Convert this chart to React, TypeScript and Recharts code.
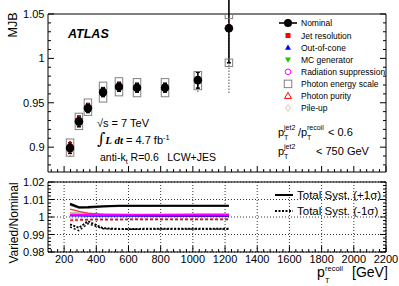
import React from "react";
import {CartesianGrid, ComposedChart, ErrorBar, Line, Scatter, XAxis, YAxis} from "recharts";

const FONT = "'Liberation Sans', Arial, Helvetica, sans-serif";

// recoil pT bin centres [GeV]
const recoilPt = [237, 292, 348, 442, 541, 653, 827, 1031, 1224];

// top panel: MJB per variation
const nominal = [0.899, 0.929, 0.944, 0.962, 0.968, 0.967, 0.967, 0.9755, 1.034];
const nominalErr = [0.006, 0.006, 0.005, 0.005, 0.005, 0.005, 0.005, 0.009, 0.039];
const jetResolution = [0.897, 0.927, 0.943, 0.961, 0.967, 0.966, 0.966, 0.975, 1.033];
const outOfCone = [0.8995, 0.9295, 0.9445, 0.9625, 0.9685, 0.9675, 0.9675, 0.976, 1.0345];
const mcGenerator = [0.899, 0.929, 0.944, 0.962, 0.968, 0.967, 0.967, 0.9755, 1.034];
const radiation = [0.900, 0.930, 0.945, 0.963, 0.969, 0.968, 0.968, 0.976, 1.035];
const pesUp = [0.905, 0.934, 0.950, 0.969, 0.974, 0.973, 0.973, 0.981, 1.049];
const pesDown = [0.894, 0.924, 0.940, 0.955, 0.962, 0.961, 0.961, 0.969, 0.995];
const pesDownErr = [0.005, 0, 0, 0, 0, 0, 0, 0.007, 0.034];
const photonPurity = [0.903, 0.932, 0.946, 0.963, 0.969, 0.968, 0.968, 0.977, 1.036];
const pileUp = [0.899, 0.929, 0.944, 0.962, 0.968, 0.967, 0.967, 0.9755, 1.034];

// bottom panel: varied / nominal
const totUp = [1.0076, 1.0056, 1.0057, 1.0062, 1.0064, 1.0064, 1.0064, 1.0064, 1.0064];
const totUpAlt = [1.0068, 1.0050, 1.0051, 1.0057, 1.0060, 1.0061, 1.0062, 1.0062, 1.0062];
const totDown = [0.9958, 0.9938, 0.9976, 0.9936, 0.9932, 0.9932, 0.9933, 0.9933, 0.9933];
const totDownAlt = [0.9943, 0.9922, 0.9962, 0.9933, 0.9930, 0.9930, 0.9931, 0.9931, 0.9931];
const jetResRatio = [1.0045, 1.0032, 1.0022, 1.0014, 1.0010, 1.0008, 1.0006, 1.0005, 1.0005];
const pesUpRatio = [1.0026, 1.0023, 1.0021, 1.0019, 1.0017, 1.0016, 1.0015, 1.0014, 1.0014];
const mcRatio = [1.0018, 1.0016, 1.0014, 1.0012, 1.0011, 1.0010, 1.0009, 1.0008, 1.0008];
const radRatio = [1.0012, 1.0012, 1.0012, 1.0012, 1.0012, 1.0013, 1.0014, 1.0016, 1.0016];
const oocRatio = [1.0007, 1.0007, 1.0006, 1.0006, 1.0006, 1.0006, 1.0005, 1.0005, 1.0005];
const purityRatio = [0.9982, 0.9984, 0.9985, 0.9986, 0.9986, 0.9987, 0.9987, 0.9987, 0.9987];
const pileRatio = [0.9993, 0.9993, 0.9994, 0.9994, 0.9994, 0.9994, 0.9994, 0.9994, 0.9994];
const pesDownRatio = [0.9978, 0.9980, 0.9981, 0.9982, 0.9982, 0.9982, 0.9982, 0.9982, 0.9982];

const xDomain = [100, 2200];
const xMajor = [200, 400, 600, 800, 1000, 1200, 1400, 1600, 1800, 2000, 2200];
const mjbMajor = [0.9, 0.95, 1, 1.05];
const ratioMajor = [0.98, 0.99, 1, 1.01, 1.02];

const steps = (from: number, to: number, step: number) =>
  Array.from({length: Math.round((to - from) / step) + 1}, (_, i) => +(from + i * step).toFixed(4));
const xTicks = steps(120, 2200, 40);
const mjbTicks = steps(0.88, 1.05, 0.01);
const ratioTicks = steps(0.98, 1.02, 0.002);

const pts = (ys: number[], errs?: number[]) =>
  recoilPt.map((x, i) => ({x, y: ys[i], e: errs ? errs[i] : 0}));

// marker shapes
const circle = (r: number, fill: string, stroke = "none") => (p: any) =>
  <circle cx={p.cx} cy={p.cy} r={r} fill={fill} stroke={stroke} strokeWidth={1}/>;
const square = (s: number, fill: string, stroke = "none") => (p: any) =>
  <rect x={p.cx - s / 2} y={p.cy - s / 2} width={s} height={s} fill={fill} stroke={stroke} strokeWidth={1}/>;
const triangle = (s: number, fill: string, stroke = "none", down = false) => (p: any) => {
  const h = s * 0.87, d = down ? -1 : 1;
  const pp = `${p.cx},${p.cy - d * h * 0.6} ${p.cx - s / 2},${p.cy + d * h * 0.4} ${p.cx + s / 2},${p.cy + d * h * 0.4}`;
  return <polygon points={pp} fill={fill} stroke={stroke} strokeWidth={1}/>;
};
const diamond = (s: number, stroke: string) => (p: any) => {
  const pp = `${p.cx},${p.cy - s / 2} ${p.cx + s / 3},${p.cy} ${p.cx},${p.cy + s / 2} ${p.cx - s / 3},${p.cy}`;
  return <polygon points={pp} fill="none" stroke={stroke} strokeWidth={1}/>;
};

const legendItems = [
  {name: "Jet resolution", shape: square(5, "#ff0000")},
  {name: "Out-of-cone", shape: triangle(6, "#0000ff")},
  {name: "MC generator", shape: triangle(6, "#22bb22", "none", true)},
  {name: "Radiation suppression", shape: circle(2.8, "none", "#ff00ff")},
  {name: "Photon energy scale", shape: square(7.5, "none", "#808080")},
  {name: "Photon purity", shape: triangle(7, "none", "#ff0000")},
  {name: "Pile-up", shape: diamond(7, "#d2cbb4")},
];

const ratioSeries = [
  {key: "pesDown", values: pesDownRatio, color: "#b0b0b0", dash: "3 2", width: 1.2},
  {key: "pile", values: pileRatio, color: "#ff99cc", dash: "3 2", width: 1.2},
  {key: "purity", values: purityRatio, color: "#ff0000", dash: "3 2", width: 1.4},
  {key: "pesUp", values: pesUpRatio, color: "#b8b8a8", dash: undefined, width: 1.4},
  {key: "mc", values: mcRatio, color: "#66cc66", dash: undefined, width: 1.4},
  {key: "jetRes", values: jetResRatio, color: "#ff3030", dash: undefined, width: 1.4},
  {key: "ooc", values: oocRatio, color: "#0000ff", dash: undefined, width: 1.4},
  {key: "rad", values: radRatio, color: "#ff00ff", dash: undefined, width: 1.6},
  {key: "totUpAlt", values: totUpAlt, color: "#555555", dash: undefined, width: 1.2},
  {key: "totDownAlt", values: totDownAlt, color: "#000000", dash: "2 2", width: 1.4},
  {key: "totUp", values: totUp, color: "#000000", dash: undefined, width: 2},
  {key: "totDown", values: totDown, color: "#000000", dash: "2 1.5", width: 2},
];

const ratioRows = recoilPt.map((x, i) => {
  const row: Record<string, number> = {x};
  ratioSeries.forEach(s => { row[s.key] = s.values[i]; });
  return row;
});

const black = {stroke: "#000", strokeWidth: 1};
const isMajor = (v: number, majors: number[]) => majors.some(m => Math.abs(m - v) < 1e-6);

// ROOT-like inward ticks: long for major, short for minor, labels only on majors
const tickMark = (side: "bottom" | "top" | "left" | "right", majors: number[], labels: boolean) => (p: any) => {
  const v = p.payload.value;
  const major = isMajor(v, majors);
  const len = major ? 6 : 3;
  const {x, y} = p;
  const line = side === "bottom" ? [x, y, x, y - len]
    : side === "top" ? [x, y, x, y + len]
    : side === "left" ? [x, y, x + len, y]
    : [x, y, x - len, y];
  return (
    <g>
      <line x1={line[0]} y1={line[1]} x2={line[2]} y2={line[3]} stroke="#000" strokeWidth={1}/>
      {labels && major && side === "bottom" &&
        <text x={x} y={y + 10.5} textAnchor="middle" fontSize={11} fontFamily={FONT} fill="#000">{v}</text>}
      {labels && major && side === "left" &&
        <text x={x - 3.5} y={y + 4} textAnchor="end" fontSize={11} fontFamily={FONT} fill="#000">{v}</text>}
    </g>
  );
};

const frameAxes = (yDomain: number[], yTicks: number[], yMajor: number[], xLabels: boolean) => [
  <XAxis key="xb" xAxisId="b" type="number" dataKey="x" domain={xDomain} ticks={xTicks} allowDataOverflow
         height={1} axisLine={black} tickLine={false} tickSize={0} tickMargin={0} interval={0}
         tick={tickMark("bottom", xMajor, xLabels)}/>,
  <XAxis key="xt" xAxisId="t" orientation="top" type="number" domain={xDomain} ticks={xTicks} allowDataOverflow
         height={1} axisLine={black} tickLine={false} tickSize={0} tickMargin={0} interval={0}
         tick={tickMark("top", xMajor, false)}/>,
  <YAxis key="yl" yAxisId="l" type="number" dataKey="y" domain={yDomain} ticks={yTicks} allowDataOverflow
         width={1} axisLine={black} tickLine={false} tickSize={0} tickMargin={0} interval={0}
         tick={tickMark("left", yMajor, true)}/>,
  <YAxis key="yr" yAxisId="r" orientation="right" type="number" domain={yDomain} ticks={yTicks} allowDataOverflow
         width={1} axisLine={black} tickLine={false} tickSize={0} tickMargin={0} interval={0}
         tick={tickMark("right", yMajor, false)}/>,
];

const MjbPanel = () => (
  <ComposedChart width={399} height={180} margin={{top: 13, right: 12, bottom: 7, left: 47}}>
    {frameAxes([0.872, 1.05], mjbTicks, mjbMajor, false)}
    <Scatter xAxisId="b" yAxisId="l" data={pts(pileUp)} shape={legendItems[6].shape} isAnimationActive={false}/>
    <Scatter xAxisId="b" yAxisId="l" data={pts(pesUp)} shape={legendItems[4].shape} isAnimationActive={false}/>
    <Scatter xAxisId="b" yAxisId="l" data={pts(pesDown, pesDownErr)} shape={legendItems[4].shape} isAnimationActive={false}>
      <ErrorBar dataKey="e" direction="y" width={0} stroke="#777" strokeWidth={1.3} strokeDasharray="1.5 1.5"/>
    </Scatter>
    <Scatter xAxisId="b" yAxisId="l" data={pts(radiation)} shape={legendItems[3].shape} isAnimationActive={false}/>
    <Scatter xAxisId="b" yAxisId="l" data={pts(mcGenerator)} shape={legendItems[2].shape} isAnimationActive={false}/>
    <Scatter xAxisId="b" yAxisId="l" data={pts(outOfCone)} shape={legendItems[1].shape} isAnimationActive={false}/>
    <Scatter xAxisId="b" yAxisId="l" data={pts(photonPurity)} shape={legendItems[5].shape} isAnimationActive={false}/>
    <Scatter xAxisId="b" yAxisId="l" data={pts(jetResolution)} shape={legendItems[0].shape} isAnimationActive={false}/>
    <Scatter xAxisId="b" yAxisId="l" data={pts(nominal, nominalErr)} shape={circle(4.3, "#000")} isAnimationActive={false}>
      <ErrorBar dataKey="e" direction="y" width={2} stroke="#000" strokeWidth={1.6}/>
    </Scatter>
  </ComposedChart>
);

const RatioPanel = () => (
  <ComposedChart width={399} height={114} data={ratioRows} margin={{top: 9, right: 12, bottom: 33, left: 47}}>
    <CartesianGrid xAxisId="b" yAxisId="l" stroke="#000" strokeWidth={0.8} strokeDasharray="1 2"
                   horizontalValues={ratioMajor} verticalValues={xMajor}/>
    {frameAxes([0.98, 1.02], ratioTicks, ratioMajor, true)}
    {ratioSeries.map(s => (
      <Line key={s.key} xAxisId="b" yAxisId="l" dataKey={s.key} type="linear" stroke={s.color}
            strokeWidth={s.width} strokeDasharray={s.dash} dot={false} isAnimationActive={false}/>
    ))}
  </ComposedChart>
);

const Overlay = () => (
  <svg width={399} height={286} fontFamily={FONT}
       style={{position: "absolute", left: 0, top: 0, pointerEvents: "none"}}>
    <text transform="translate(17,25) rotate(-90)" textAnchor="middle" fontSize={12.5}>MJB</text>
    <text transform="translate(18,223) rotate(-90)" textAnchor="middle" fontSize={12}>Varied/Nominal</text>

    <text x={68} y={38} fontSize={12.5} fontWeight="bold" fontStyle="italic">ATLAS</text>
    <text x={97} y={127} fontSize={11}>√s = 7 TeV</text>
    <text x={97} y={144} fontSize={11}>
      <tspan fontSize={16} fontFamily="'DejaVu Serif', serif">∫</tspan>
      <tspan fontFamily="'Liberation Serif', serif" fontStyle="italic" fontWeight="bold">L dt</tspan>
      <tspan> = 4.7 fb</tspan>
      <tspan dy={-4} fontSize={7.5}>-1</tspan>
    </text>
    <text x={100} y={161} fontSize={10.5}>anti-k<tspan dy={3} fontSize={7}>t</tspan><tspan dy={-3}> R=0.6</tspan></text>
    <text x={216} y={161} fontSize={10.5} textAnchor="end">LCW+JES</text>

    <text x={278} y={136} fontSize={11}>p</text>
    <text x={284} y={140} fontSize={7}>T</text>
    <text x={284} y={130} fontSize={7}>jet2</text>
    <text x={298} y={136} fontSize={11}>/p</text>
    <text x={307} y={140} fontSize={7}>T</text>
    <text x={307} y={130} fontSize={7}>recoil</text>
    <text x={328} y={136} fontSize={11}>{"< 0.6"}</text>
    <text x={278} y={155} fontSize={11}>p</text>
    <text x={284} y={159} fontSize={7}>T</text>
    <text x={284} y={149} fontSize={7}>jet2</text>
    <text x={316} y={155} fontSize={11}>{"< 750 GeV"}</text>

    <line x1={279} x2={297} y1={23} y2={23} stroke="#000" strokeWidth={1.6}/>
    <circle cx={288} cy={23} r={4} fill="#000"/>
    <text x={301} y={26} fontSize={8.5}>Nominal</text>
    {legendItems.map((it, i) => (
      <g key={it.name}>
        {it.shape({cx: 288, cy: 35.5 + i * 12.1})}
        <text x={301} y={38.5 + i * 12.1} fontSize={8.5}>{it.name}</text>
      </g>
    ))}

    <line x1={275} x2={293} y1={195} y2={195} stroke="#000" strokeWidth={2}/>
    <text x={297} y={199} fontSize={11.5}>Total Syst. (+1σ)</text>
    <line x1={275} x2={293} y1={211} y2={211} stroke="#000" strokeWidth={2} strokeDasharray="2 1.5"/>
    <text x={297} y={215} fontSize={11.5}>Total Syst. (-1σ)</text>

    <text x={317} y={277} fontSize={14}>p</text>
    <text x={325} y={283} fontSize={7.5}>T</text>
    <text x={325} y={270.5} fontSize={7.5}>recoil</text>
    <text x={352} y={277} fontSize={14}>[GeV]</text>
  </svg>
);

export default function App() {
  return (
    <div style={{position: "absolute", left: 0, top: 0, width: 399, height: 286, background: "#fff", fontFamily: FONT}}>
      <div style={{position: "absolute", left: 0, top: 0}}><MjbPanel/></div>
      <div style={{position: "absolute", left: 0, top: 172}}><RatioPanel/></div>
      <Overlay/>
    </div>
  );
}
